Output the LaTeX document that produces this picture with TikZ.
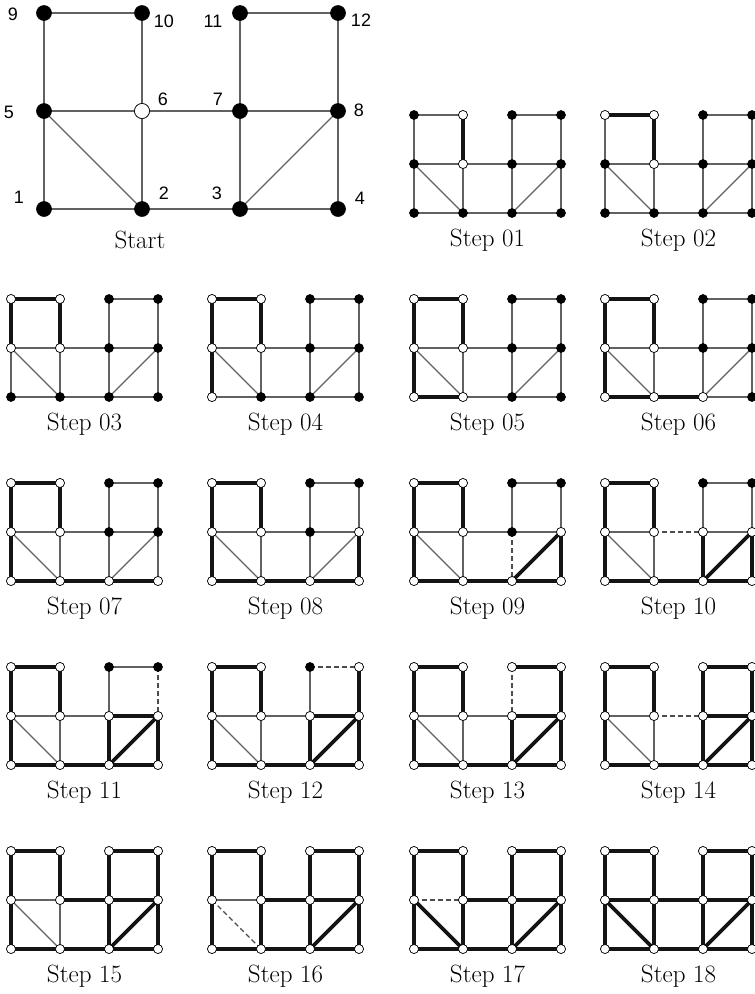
\documentclass[tikz,border=0pt]{standalone}
\usepackage{fontspec}
\newfontfamily\numfont{Liberation Sans}
\usetikzlibrary{backgrounds}

\tikzset{
  dot/.style={circle, draw=black, line width=0.6pt, fill=black, inner sep=0pt, minimum size=15pt},
  sdot/.style={circle, draw=black, line width=0.6pt, fill=black, inner sep=0pt, minimum size=9pt},
  hollow/.style={fill=white},
  thinedge/.style={line width=1.1pt, black!62},
  thickedge/.style={line width=3.8pt, black!92},
  dashedge/.style={line width=1.1pt, black!70, dash pattern=on 5pt off 3pt},
  numlbl/.style={font=\numfont\fontsize{18}{18}\selectfont},
  steplbl/.style={font=\fontsize{25}{25}\selectfont},
}

% edges and grid positions of the graph
\newcommand{\alledges}{9/10,9/5,10/6,11/12,11/7,12/8,5/6,6/7,7/8,5/1,5/2,6/2,7/3,8/3,8/4,1/2,2/3,3/4}
\newcommand{\gridpos}{9/0/0,10/1/0,11/2/0,12/3/0,5/0/1,6/1/1,7/2/1,8/3/1,1/0/2,2/1/2,3/2/2,4/3/2}

% #1 step, #2 x, #3 y, #4 open vertices, #5 thick edges, #6 dashed edges
\newcommand{\stepgraph}[6]{%
  \begin{scope}[shift={(#2,#3)}]
    \foreach \v/\i/\j in \gridpos
      \node[sdot] (s#1-\v) at (49*\i,49*\j) {};
    \foreach \v in {#4}
      \node[sdot, hollow] (s#1-\v) at (s#1-\v) {};
    \begin{scope}[on background layer]
      \foreach \a/\b in \alledges
        \draw[thinedge] (s#1-\a.center) -- (s#1-\b.center);
      \foreach \a/\b in {#5}
        \draw[thickedge] (s#1-\a.center) -- (s#1-\b.center);
      \foreach \a/\b in {#6}{
        \draw[white, line width=2.5pt] (s#1-\a.center) -- (s#1-\b.center);
        \draw[dashedge] (s#1-\a.center) -- (s#1-\b.center);
      }
    \end{scope}
    \node[steplbl] (s#1-lbl) at (73.5,125) {Step #1};
  \end{scope}
}

\begin{document}
\begin{tikzpicture}[x=1pt, y=-1pt]
\useasboundingbox (0,0) rectangle (755,994);

% ================= START =================
\begin{scope}[shift={(44,13)}]
  \foreach \v/\i/\j in \gridpos
    \node[dot] (n\v) at (98*\i,98*\j) {};
  \node[dot, hollow] (n6) at (n6) {};
  \begin{scope}[on background layer]
    \foreach \a/\b in \alledges
      \draw[thinedge] (n\a.center) -- (n\b.center);
  \end{scope}
\end{scope}

% vertex numbers
\foreach \v/\dx/\dy in {9/-31/1, 10/22/8, 11/-27/8, 12/23/7, 5/-35/1, 6/21/-12,
                        7/-22/-12, 8/21/-1, 1/-25/-12, 2/22/-16, 3/-23/-16, 4/22/-11}
  \node[numlbl] (l\v) at ([shift={(\dx,\dy)}]n\v) {\v};

\node[steplbl] (start) at (140,240) {Start};

% ================= STEPS =================
\stepgraph{01}{414}{115}{10,6}{10/6}{}
\stepgraph{02}{605}{115}{9,10,6}{9/10,10/6}{}

\stepgraph{03}{11}{299}{9,10,6,5}{9/10,10/6,9/5}{}
\stepgraph{04}{212}{299}{9,10,6,5,1}{9/10,10/6,9/5,5/1}{}
\stepgraph{05}{414}{299}{9,10,6,5,1,2}{9/10,10/6,9/5,5/1,1/2}{}
\stepgraph{06}{605}{299}{9,10,6,5,1,2,3}{9/10,10/6,9/5,5/1,1/2,2/3}{}

\stepgraph{07}{11}{483}{9,10,6,5,1,2,3,4}{9/10,10/6,9/5,5/1,1/2,2/3,3/4}{}
\stepgraph{08}{212}{483}{9,10,6,5,1,2,3,4,8}{9/10,10/6,9/5,5/1,1/2,2/3,3/4,8/4}{}
\stepgraph{09}{414}{483}{9,10,6,5,1,2,3,4,8}{9/10,10/6,9/5,5/1,1/2,2/3,3/4,8/4,8/3}{7/3}
\stepgraph{10}{605}{483}{9,10,6,5,1,2,3,4,8,7}{9/10,10/6,9/5,5/1,1/2,2/3,3/4,8/4,8/3,7/3}{6/7}

\stepgraph{11}{11}{667}{9,10,6,5,1,2,3,4,8,7}{9/10,10/6,9/5,5/1,1/2,2/3,3/4,8/4,8/3,7/3,7/8}{12/8}
\stepgraph{12}{212}{667}{9,10,6,5,1,2,3,4,8,7,12}{9/10,10/6,9/5,5/1,1/2,2/3,3/4,8/4,8/3,7/3,7/8,12/8}{11/12}
\stepgraph{13}{414}{667}{9,10,6,5,1,2,3,4,8,7,12,11}{9/10,10/6,9/5,5/1,1/2,2/3,3/4,8/4,8/3,7/3,7/8,12/8,11/12}{11/7}
\stepgraph{14}{605}{667}{9,10,6,5,1,2,3,4,8,7,12,11}{9/10,10/6,9/5,5/1,1/2,2/3,3/4,8/4,8/3,7/3,7/8,12/8,11/12,11/7}{6/7}

\stepgraph{15}{11}{851}{9,10,6,5,1,2,3,4,8,7,12,11}{9/10,10/6,9/5,5/1,1/2,2/3,3/4,8/4,8/3,7/3,7/8,12/8,11/12,11/7,6/7}{}
\stepgraph{16}{212}{851}{9,10,6,5,1,2,3,4,8,7,12,11}{9/10,10/6,9/5,5/1,1/2,2/3,3/4,8/4,8/3,7/3,7/8,12/8,11/12,11/7,6/7,6/2}{5/2}
\stepgraph{17}{414}{851}{9,10,6,5,1,2,3,4,8,7,12,11}{9/10,10/6,9/5,5/1,1/2,2/3,3/4,8/4,8/3,7/3,7/8,12/8,11/12,11/7,6/7,6/2,5/2}{5/6}
\stepgraph{18}{605}{851}{9,10,6,5,1,2,3,4,8,7,12,11}{9/10,10/6,9/5,5/1,1/2,2/3,3/4,8/4,8/3,7/3,7/8,12/8,11/12,11/7,6/7,6/2,5/2,5/6}{}

\end{tikzpicture}
\end{document}
